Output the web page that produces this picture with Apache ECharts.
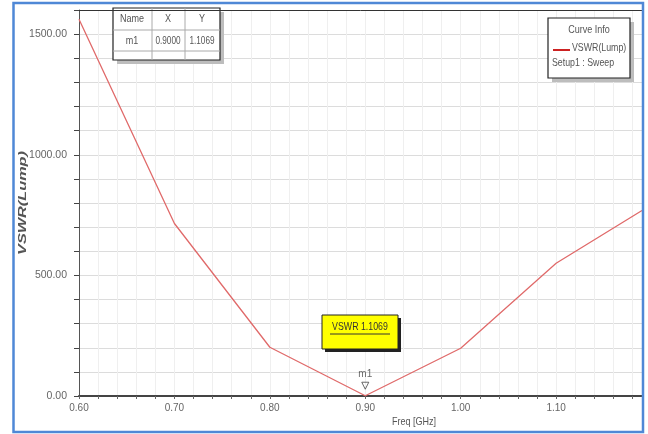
<!DOCTYPE html>
<html><head><meta charset="utf-8">
<script src="https://cdn.jsdelivr.net/npm/echarts@6/dist/echarts.min.js"></script>
<style>html,body{margin:0;padding:0;background:#fff}#c{width:648px;height:434px}</style>
</head><body><div id="c"></div>
<script>
const freqs = [0.60, 0.70, 0.80, 0.90, 1.00, 1.10, 1.19];
const vswr = [1562, 715, 202, 1.1069, 198, 550, 769];
const markerFreq = [0.90];
const markerVal = [1.1069];
const yTickLabels = ['0.00', '500.00', '1000.00', '1500.00'];
const xTickLabels = ['0.60', '0.70', '0.80', '0.90', '1.00', '1.10'];

const FONT = '"Liberation Sans", Arial, sans-serif';
const chart = echarts.init(document.getElementById('c'), null, {renderer: 'canvas'});

function near(v, step) { const r = v / step; return Math.abs(r - Math.round(r)) < 1e-6; }
function txt(t, x, y, size, align, sx, color) {
  return {type: 'text', x: x, y: y, scaleX: sx || 0.82, z: 43,
    style: {text: t, fill: color || '#555', font: size + 'px ' + FONT, align: align || 'center', verticalAlign: 'middle'}};
}

chart.setOption({
  animation: false,
  backgroundColor: '#fff',
  grid: {left: 79, right: 6, top: 10, bottom: 38, containLabel: false},
  xAxis: {
    type: 'value', min: 0.6, max: 1.19, interval: 0.02,
    axisLine: {show: true, lineStyle: {color: '#444', width: 2}},
    axisTick: {show: true, length: 3, lineStyle: {color: '#666'}},
    axisLabel: {
      color: '#666', fontSize: 10, fontFamily: FONT, margin: 7,
      formatter: v => {
        if (!near(v - 0.6, 0.1)) return '';
        const s = v.toFixed(2);
        return xTickLabels.indexOf(s) >= 0 ? s : '';
      }
    },
    splitLine: {show: true, lineStyle: {color: '#efefef', width: 1}}
  },
  yAxis: {
    type: 'value', min: 0, max: 1600, interval: 100,
    axisLine: {show: true, lineStyle: {color: '#555', width: 1}},
    axisTick: {show: true, inside: false, length: 5, lineStyle: {color: '#444'}},
    axisLabel: {
      color: '#666', fontSize: 10.5, fontFamily: FONT, margin: 12,
      formatter: v => {
        if (!near(v, 500)) return '';
        const s = v.toFixed(2);
        return yTickLabels.indexOf(s) >= 0 ? s : '';
      }
    },
    splitLine: {show: true, lineStyle: {color: '#dcdcdc', width: 1}}
  },
  series: [
    {
      type: 'line', name: 'VSWR(Lump)',
      data: freqs.map((f, i) => [f, vswr[i]]),
      showSymbol: false, symbol: 'none',
      lineStyle: {color: '#e06a6a', width: 1.3},
      z: 3
    },
    {
      type: 'scatter',
      data: markerFreq.map((f, i) => [f, markerVal[i]]),
      symbol: 'triangle', symbolRotate: 180, symbolSize: [7, 7], symbolOffset: [0, -10],
      itemStyle: {color: 'rgba(255,255,255,0)', borderColor: '#444', borderWidth: 1},
      label: {show: true, position: 'top', distance: 2, formatter: 'm1', color: '#444', fontSize: 10, fontFamily: FONT},
      z: 4
    }
  ],
  graphic: [
    {type: 'line', shape: {x1: 79, y1: 10.5, x2: 642, y2: 10.5}, style: {stroke: '#333', lineWidth: 1}, z: 50},
    {type: 'rect', shape: {x: 13.5, y: 3, width: 629.5, height: 429}, style: {fill: 'none', stroke: '#4f88d6', lineWidth: 2.5}, z: 60},
    // y axis name
    {type: 'text', x: 23, y: 203, rotation: Math.PI / 2, scaleX: 1.55, z: 43,
      style: {text: 'VSWR(Lump)', fill: '#555', font: 'italic bold 10.5px ' + FONT, align: 'center', verticalAlign: 'middle'}},
    // marker table
    {type: 'rect', shape: {x: 117, y: 12, width: 107, height: 52}, style: {fill: '#bdbdbd'}, z: 40},
    {type: 'rect', shape: {x: 113, y: 8, width: 107, height: 52}, style: {fill: '#fff', stroke: '#222', lineWidth: 1.2}, z: 41},
    {type: 'line', shape: {x1: 113, y1: 30, x2: 220, y2: 30}, style: {stroke: '#aaa', lineWidth: 1}, z: 42},
    {type: 'line', shape: {x1: 113, y1: 51, x2: 220, y2: 51}, style: {stroke: '#aaa', lineWidth: 1}, z: 42},
    {type: 'line', shape: {x1: 152, y1: 8, x2: 152, y2: 60}, style: {stroke: '#aaa', lineWidth: 1}, z: 42},
    {type: 'line', shape: {x1: 185, y1: 8, x2: 185, y2: 60}, style: {stroke: '#aaa', lineWidth: 1}, z: 42},
    txt('Name', 132, 19, 11), txt('X', 168, 19, 11), txt('Y', 202, 19, 11),
    txt('m1', 132, 41, 11), txt('0.9000', 168, 41, 10), txt('1.1069', 202, 41, 10),
    // legend box
    {type: 'rect', shape: {x: 552, y: 22, width: 82, height: 60}, style: {fill: '#bdbdbd'}, z: 40},
    {type: 'rect', shape: {x: 548, y: 18, width: 82, height: 60}, style: {fill: '#fff', stroke: '#222', lineWidth: 1.2}, z: 41},
    txt('Curve Info', 589, 30, 11),
    {type: 'line', shape: {x1: 553, y1: 50, x2: 570, y2: 50}, style: {stroke: '#cc2222', lineWidth: 2}, z: 43},
    txt('VSWR(Lump)', 572, 48, 11, 'left', 0.8),
    txt('Setup1 : Sweep', 552, 63, 11, 'left', 0.8),
    // yellow marker label
    {type: 'rect', shape: {x: 325, y: 318, width: 76, height: 34}, style: {fill: '#222'}, z: 40},
    {type: 'rect', shape: {x: 322, y: 315, width: 76, height: 34}, style: {fill: '#ffff00', stroke: '#222', lineWidth: 1}, z: 41},
    txt('VSWR 1.1069', 360, 327, 11, 'center', 0.8, '#333'),
    {type: 'line', shape: {x1: 330, y1: 334, x2: 390, y2: 334}, style: {stroke: '#333', lineWidth: 1}, z: 43},
    // x axis name
    txt('Freq [GHz]', 414, 422, 11, 'center', 0.82)
  ]
});
</script></body></html>
